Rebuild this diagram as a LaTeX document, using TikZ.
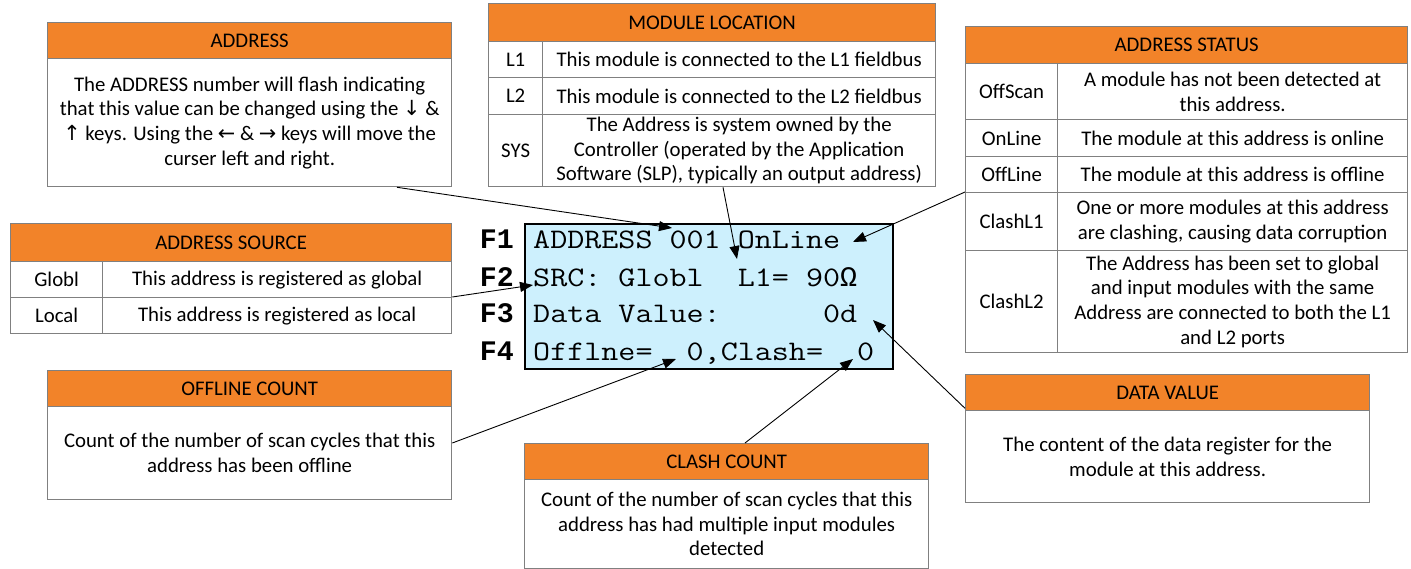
\documentclass[tikz,border=0pt]{standalone}
\usepackage{fontspec}
\setmainfont{Carlito}
\newfontfamily\lcdfont{Latin Modern Mono}[FakeStretch=1.17]
\newfontfamily\keyfont{Liberation Mono}
\newfontfamily\symfont{DejaVu Sans}
\usetikzlibrary{arrows.meta,calc}
\definecolor{hdrorange}{RGB}{242,131,41}
\definecolor{edgegray}{RGB}{128,128,128}
\definecolor{lcdblue}{RGB}{205,240,253}
\tikzset{
  cellbox/.style={draw=edgegray, line width=1.3pt, anchor=north west, inner sep=0pt, align=center, fill=white, font=\fontsize{20.8}{24.7}\selectfont},
  hdrbox/.style={cellbox, fill=hdrorange},
  lcdline/.style={anchor=base west, inner sep=0pt, font=\lcdfont\fontsize{28.3}{34}\selectfont},
  fkey/.style={anchor=base east, inner sep=0pt, font=\keyfont\bfseries\fontsize{28.3}{34}\selectfont},
  pointer/.style={draw=black, line width=0.9pt, -{Triangle[length=13pt,width=10pt]}},
}
\begin{document}
\begin{tikzpicture}[x=1pt,y=-1pt]
\useasboundingbox (0,0) rectangle (1411,569);
\fill[white] (0,0) rectangle (1411,569);

% ADDRESS
\node[hdrbox, minimum width=404pt, minimum height=36pt] (adhead) at (47,22) {ADDRESS};
\node[cellbox, minimum width=404pt, minimum height=128pt] (adbody) at (47,58) {The ADDRESS number will flash indicating\\that this value can be changed using the {\symfont ↓} \&\\{\symfont ↑} keys. Using the {\symfont ←} \& {\symfont →} keys will move the\\curser left and right.};

% MODULE LOCATION
\node[hdrbox, minimum width=447pt, minimum height=38pt] (mlhead) at (488,3) {MODULE LOCATION};
\node[cellbox, minimum width=54pt, minimum height=36pt] (mlLa) at (488,41) {L1};
\node[cellbox, minimum width=393pt, minimum height=36pt] (mlLaT) at (542,41) {This module is connected to the L1 fieldbus};
\node[cellbox, minimum width=54pt, minimum height=37pt] (mlLb) at (488,77) {L2};
\node[cellbox, minimum width=393pt, minimum height=37pt] (mlLbT) at (542,77) {This module is connected to the L2 fieldbus};
\node[cellbox, minimum width=54pt, minimum height=72pt] (mlSys) at (488,114) {SYS};
\node[cellbox, minimum width=393pt, minimum height=72pt] (mlSysT) at (542,114) {The Address is system owned by the\\Controller (operated by the Application\\Software (SLP), typically an output address)};

% ADDRESS STATUS
\node[hdrbox, minimum width=442pt, minimum height=37pt] (sthead) at (965,26) {ADDRESS STATUS};
\node[cellbox, minimum width=92pt, minimum height=56pt] (stOffScan) at (965,63) {OffScan};
\node[cellbox, minimum width=350pt, minimum height=56pt] (stOffScanT) at (1057,63) {A module has not been detected at\\this address.};
\node[cellbox, minimum width=92pt, minimum height=37pt] (stOnLine) at (965,119) {OnLine};
\node[cellbox, minimum width=350pt, minimum height=37pt] (stOnLineT) at (1057,119) {The module at this address is online};
\node[cellbox, minimum width=92pt, minimum height=36pt] (stOffLine) at (965,156) {OffLine};
\node[cellbox, minimum width=350pt, minimum height=36pt] (stOffLineT) at (1057,156) {The module at this address is offline};
\node[cellbox, minimum width=92pt, minimum height=58pt] (stClashA) at (965,192) {ClashL1};
\node[cellbox, minimum width=350pt, minimum height=58pt] (stClashAT) at (1057,192) {One or more modules at this address\\are clashing, causing data corruption};
\node[cellbox, minimum width=92pt, minimum height=102pt] (stClashB) at (965,250) {ClashL2};
\node[cellbox, minimum width=350pt, minimum height=102pt] (stClashBT) at (1057,250) {The Address has been set to global\\and input modules with the same\\Address are connected to both the L1\\and L2 ports};

% ADDRESS SOURCE
\node[hdrbox, minimum width=441pt, minimum height=38pt] (srchead) at (10,223) {ADDRESS SOURCE};
\node[cellbox, minimum width=92pt, minimum height=36pt] (srcGlobl) at (10,261) {Globl};
\node[cellbox, minimum width=349pt, minimum height=36pt] (srcGloblT) at (102,261) {This address is registered as global};
\node[cellbox, minimum width=92pt, minimum height=36pt] (srcLocal) at (10,297) {Local};
\node[cellbox, minimum width=349pt, minimum height=36pt] (srcLocalT) at (102,297) {This address is registered as local};

% LCD
\node[draw=black, fill=lcdblue, line width=1.6pt, anchor=north west, inner sep=0pt, minimum width=368pt, minimum height=145pt] (lcd) at (524,223) {};
\node[fkey] (fa) at (514,249) {F1};
\node[fkey] (fb) at (514,287) {F2};
\node[fkey] (fc) at (514,323) {F3};
\node[fkey] (fd) at (514,360) {F4};
\node[lcdline] (la) at (533,249) {ADDRESS~001~OnLine};
\node[lcdline] (lb) at (533,287) {SRC:~Globl~~L1=~90{\keyfont Ω}};
\node[lcdline] (lc) at (533,323) {Data~Value:~~~~~~0d};
\node[lcdline] (ld) at (533,360) {Offlne=~~0,Clash=~~0};

% OFFLINE COUNT
\node[hdrbox, minimum width=404pt, minimum height=36pt] (ochead) at (47,370) {OFFLINE COUNT};
\node[cellbox, minimum width=404pt, minimum height=93pt] (ocbody) at (47,406) {Count of the number of scan cycles that this\\address has been offline};

% CLASH COUNT
\node[hdrbox, minimum width=404pt, minimum height=36pt] (cchead) at (524,443) {CLASH COUNT};
\node[cellbox, minimum width=404pt, minimum height=89pt] (ccbody) at (524,479) {Count of the number of scan cycles that this\\address has had multiple input modules\\detected};

% DATA VALUE
\node[hdrbox, minimum width=404pt, minimum height=36pt] (dvhead) at (965,374) {DATA VALUE};
\node[cellbox, minimum width=404pt, minimum height=92pt] (dvbody) at (965,410) {The content of the data register for the\\module at this address.};

% pointer targets
\coordinate (tAddr) at (672,228);
\coordinate (tLoc) at (737,259);
\coordinate (tStat) at (853,242);
\coordinate (tSrc) at (533,285);
\coordinate (tData) at (873,320);
\coordinate (tOff) at (676,359);
\coordinate (tClash) at (853,359);

\draw[pointer] ($(adbody.south west)+(350,0)$) -- (tAddr);
\draw[pointer] ($(mlSysT.south west)+(181,0)$) -- (tLoc);
\draw[pointer] (stClashA.north west) -- (tStat);
\draw[pointer] (srcLocalT.north east) -- (tSrc);
\draw[pointer] ($(dvhead.south west)+(0,-3)$) -- (tData);
\draw[pointer] ($(ocbody.north east)+(0,37)$) -- (tOff);
\draw[pointer] ($(cchead.north west)+(221,0)$) -- (tClash);
\end{tikzpicture}
\end{document}
